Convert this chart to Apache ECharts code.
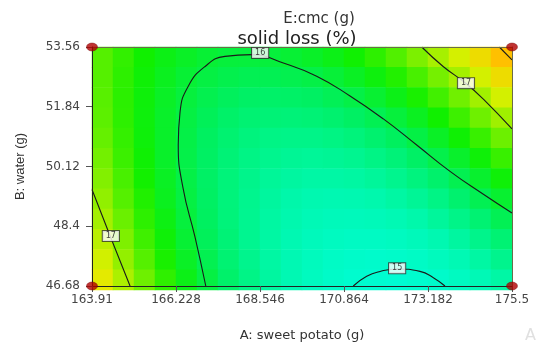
<!DOCTYPE html>
<html>
<head>
<meta charset="utf-8">
<script src="https://cdn.jsdelivr.net/npm/echarts@6/dist/echarts.min.js"></script>
<style>
html,body{margin:0;padding:0;background:#fff;}
#chart{width:536px;height:347px;}
</style>
</head>
<body>
<div id="chart"></div>
<script>
// ---- data ----
const xTicks = [163.91, 166.228, 168.546, 170.864, 173.182, 175.5];
const yTicks = [46.68, 48.4, 50.12, 51.84, 53.56];

// estimated solid loss (%) surface, rows from top (B = 53.56) to bottom (B = 46.68),
// columns from left (A = 163.91) to right (A = 175.5)
const solidLoss = [
  [16.61,16.45,16.30,16.19,16.10,16.03,15.99,15.98,15.99,16.03,16.09,16.18,16.29,16.43,16.59,16.78,17.00,17.24,17.51,17.80],
  [16.61,16.43,16.27,16.14,16.03,15.95,15.90,15.87,15.87,15.89,15.93,16.01,16.11,16.23,16.38,16.55,16.75,16.98,17.23,17.51],
  [16.62,16.42,16.25,16.10,15.98,15.89,15.82,15.77,15.75,15.76,15.79,15.85,15.93,16.04,16.18,16.34,16.52,16.73,16.97,17.23],
  [16.64,16.43,16.24,16.08,15.95,15.84,15.75,15.69,15.66,15.65,15.67,15.71,15.78,15.87,15.99,16.13,16.30,16.50,16.72,16.96],
  [16.68,16.46,16.25,16.08,15.93,15.80,15.70,15.62,15.57,15.55,15.55,15.58,15.63,15.71,15.81,15.94,16.10,16.28,16.48,16.71],
  [16.74,16.49,16.28,16.08,15.92,15.78,15.66,15.57,15.51,15.47,15.45,15.47,15.50,15.57,15.65,15.77,15.91,16.07,16.26,16.48],
  [16.81,16.55,16.31,16.11,15.93,15.77,15.64,15.53,15.45,15.40,15.37,15.37,15.39,15.44,15.51,15.61,15.73,15.88,16.06,16.26],
  [16.89,16.61,16.37,16.14,15.95,15.78,15.63,15.51,15.41,15.34,15.30,15.28,15.29,15.32,15.38,15.46,15.57,15.71,15.87,16.05],
  [16.99,16.70,16.43,16.20,15.98,15.80,15.64,15.50,15.39,15.31,15.25,15.21,15.20,15.22,15.26,15.33,15.43,15.55,15.69,15.86],
  [17.10,16.79,16.51,16.26,16.03,15.83,15.66,15.50,15.38,15.28,15.20,15.16,15.13,15.13,15.16,15.21,15.29,15.40,15.53,15.68],
  [17.22,16.90,16.61,16.34,16.10,15.88,15.69,15.52,15.38,15.27,15.18,15.11,15.08,15.06,15.08,15.11,15.18,15.26,15.38,15.52],
  [17.36,17.03,16.72,16.44,16.18,15.95,15.74,15.56,15.40,15.27,15.17,15.09,15.03,15.01,15.00,15.03,15.07,15.15,15.25,15.37]
];

// contour lines [A, B]
const contour16 = [[167.05,46.68],[166.75,48.10],[166.42,49.51],[166.29,50.74],[166.34,51.69],[166.57,52.44],[167.03,53.00],[167.58,53.29],[168.32,53.34],[169.19,53.10],[170.11,52.72],[171.03,52.15],[171.95,51.49],[172.87,50.74],[173.79,49.98],[174.71,49.32],[175.5,48.78]];
const contour17a = [[173.01,53.56],[173.60,53.00],[174.23,52.51],[174.71,52.06],[175.5,51.20]];
const contour17b = [[163.91,49.46],[164.41,48.12],[164.96,46.68]];
const contour18 = [[175.15,53.56],[175.5,53.19]];
const contour15 = [[171.12,46.68],[171.49,46.96],[171.86,47.10],[172.32,47.17],[172.96,47.10],[173.33,46.92],[173.65,46.68]];
const contourLabels = [[168.55,53.39,'16'],[174.23,52.52,'17'],[164.43,48.12,'17'],[172.33,47.19,'15']];

// design points
const designPoints = [[163.91,53.56],[175.5,53.56],[163.91,46.68],[175.5,46.68]];

// colour scale (evenly spaced from colorMin to colorMax)
const colorMin = 14.3, colorMax = 18.3;
const colorStops = ['#00e0ff','#00ffe8','#00f8b0','#00f060','#10f000','#80f000','#e0f000','#ffc000','#ff8000'];

// ---- chart ----
const chart = echarts.init(document.getElementById('chart'), null, {renderer:'canvas'});
const colIdx = solidLoss[0].map((_, i) => String(i));
const rowIdx = solidLoss.map((_, j) => String(j));
const heatData = [];
solidLoss.forEach((row, j) => row.forEach((v, i) => heatData.push([i, j, v])));

const fmt = v => { let best = xTicks.concat(yTicks).reduce((a,b)=>Math.abs(b-v)<Math.abs(a-v)?b:a); return String(best); };
const gridBox = {left:92, right:24, top:47, bottom:57};

const contourSeries = [contour16, contour17a, contour17b, contour18, contour15].map(d => ({
  type:'line', xAxisIndex:0, yAxisIndex:0, data:d, smooth:true, showSymbol:false, symbol:'none',
  lineStyle:{color:'#1a1a1a', width:1.1}, z:3, silent:true
}));

const option = {
  animation:false,
  backgroundColor:'#ffffff',
  title:[
    {text:'E:cmc (g)', left:314, top:7, textAlign:'center',
     textStyle:{fontFamily:'DejaVu Sans', fontSize:15, fontWeight:'normal', color:'#333'}},
    {text:'solid loss (%)', left:292, top:25, textAlign:'center',
     textStyle:{fontFamily:'DejaVu Sans', fontSize:18, fontWeight:'normal', color:'#222'}}
  ],
  grid:[Object.assign({}, gridBox), Object.assign({}, gridBox)],
  xAxis:[
    {type:'value', gridIndex:0, min:xTicks[0], max:xTicks[xTicks.length-1], z:6,
     axisLine:{show:true, lineStyle:{color:'#222', width:1}},
     axisTick:{show:true, customValues:xTicks, length:6, lineStyle:{color:'#555'}},
     axisLabel:{customValues:xTicks, formatter:fmt, color:'#444', fontFamily:'DejaVu Sans', fontSize:12, margin:8},
     splitLine:{show:false},
     name:'A: sweet potato (g)', nameLocation:'middle', nameGap:43,
     nameTextStyle:{fontFamily:'DejaVu Sans', fontSize:13, color:'#333'}},
    {type:'category', gridIndex:1, position:'top', data:colIdx, z:5,
     axisLine:{show:true, lineStyle:{color:'#6b6b4a', width:1}}, axisTick:{show:false}, axisLabel:{show:false}, splitLine:{show:false}}
  ],
  yAxis:[
    {type:'value', gridIndex:0, min:yTicks[0], max:yTicks[yTicks.length-1], z:6,
     axisLine:{show:true, lineStyle:{color:'#222', width:1}},
     axisTick:{show:true, customValues:yTicks, length:6, lineStyle:{color:'#555'}},
     axisLabel:{customValues:yTicks, formatter:fmt, color:'#444', fontFamily:'DejaVu Sans', fontSize:12, margin:12},
     splitLine:{show:false},
     name:'B: water (g)', nameLocation:'middle', nameGap:65, nameRotate:90,
     nameTextStyle:{fontFamily:'Liberation Sans Narrow, Liberation Sans', fontSize:13, color:'#333'}},
    {type:'category', gridIndex:1, position:'right', inverse:true, data:rowIdx, z:5,
     axisLine:{show:true, lineStyle:{color:'#6b6b4a', width:1}}, axisTick:{show:false}, axisLabel:{show:false}, splitLine:{show:false}}
  ],
  visualMap:{show:false, type:'continuous', seriesIndex:0, dimension:2, min:colorMin, max:colorMax,
    inRange:{color:colorStops}},
  series:[
    {type:'heatmap', xAxisIndex:1, yAxisIndex:1, data:heatData, z:1, silent:true,
     itemStyle:{borderWidth:0}, emphasis:{disabled:true}},
    ...contourSeries,
    {type:'scatter', xAxisIndex:0, yAxisIndex:0, data:contourLabels, symbol:'rect', symbolSize:1,
     itemStyle:{color:'rgba(0,0,0,0)'}, z:7, silent:true,
     label:{show:true, position:'inside', formatter:p => p.value[2], fontFamily:'DejaVu Sans', fontSize:8,
            color:'#111', backgroundColor:'#ffffff', borderColor:'#333', borderWidth:1, padding:[1,3,0,3], lineHeight:9}},
    {type:'scatter', xAxisIndex:0, yAxisIndex:0, data:designPoints, symbol:'circle', symbolSize:[11,8],
     clip:false, itemStyle:{color:'#b00000', borderColor:'#700000', borderWidth:0.5}, z:8, silent:true}
  ],
  graphic:[
    {type:'text', left:525, top:328, style:{text:'A', fill:'#e0e0e0', font:'16px "DejaVu Sans"'}}
  ]
};
chart.setOption(option);
</script>
</body>
</html>
